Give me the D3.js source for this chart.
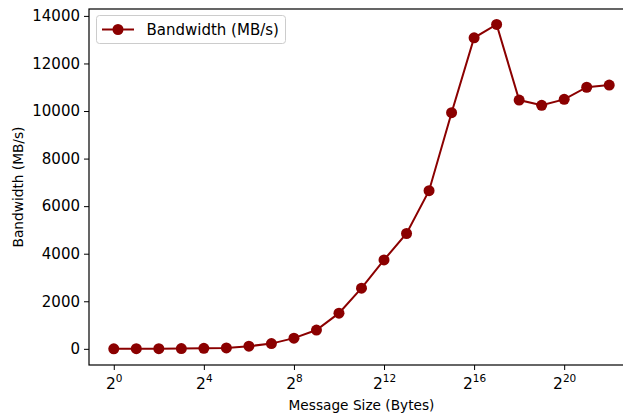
<!DOCTYPE html>
<html>
<head>
<meta charset="utf-8">
<script src="https://cdn.jsdelivr.net/npm/d3@7"></script>
<style>
  body { margin: 0; background: #fff; }
  svg { display: block; font-family: "DejaVu Sans", sans-serif; }
</style>
</head>
<body>
<svg id="chart"></svg>
<script>
// chart data
let exponents = [0, 1, 2, 3, 4, 5, 6, 7, 8, 9, 10, 11, 12, 13, 14, 15, 16, 17, 18, 19, 20, 21, 22]
let bandwidth = [2, 4, 6, 10, 20, 40, 110, 220, 450, 790, 1500, 2550, 3740, 4850, 6650, 9930,
                 13080, 13640, 10460, 10240, 10490, 11000, 11090]
let xTicks = [0, 4, 8, 12, 16, 20]
let yTicks = [0, 2000, 4000, 6000, 8000, 10000, 12000, 14000]
let seriesName = 'Bandwidth (MB/s)'
let xTitle = 'Message Size (Bytes)'
let yTitle = 'Bandwidth (MB/s)'

let width = 623
let height = 415
let padLeft = 89, padRight = 634, padTop = 9, padBottom = 365
let color = '#8b0000'

let svg = d3.select('#chart')
            .attr('width', width)
            .attr('height', height)

let xScale = d3.scaleLinear().domain([-1.1, 23.1]).range([padLeft, padRight])
let yScale = d3.scaleLinear().domain([-680, 14290]).range([padBottom, padTop])

// y axis
let yAxis = d3.axisLeft(yScale).tickValues(yTicks).tickSize(5).tickPadding(4)
                .tickFormat(d3.format('d'))
let gy = svg.append('g')
    .attr('transform', 'translate(' + padLeft + ',0)')
    .call(yAxis)
gy.select('.domain').remove()
gy.selectAll('line').attr('stroke', '#000')
gy.selectAll('text').attr('font-size', '15px').attr('fill', '#000')
    .attr('font-family', '"DejaVu Sans", sans-serif')

// x axis with 2^n labels
let xAxis = d3.axisBottom(xScale).tickValues(xTicks).tickSize(5).tickFormat('')
let gx = svg.append('g')
    .attr('transform', 'translate(0,' + padBottom + ')')
    .call(xAxis)
gx.select('.domain').remove()
gx.selectAll('line').attr('stroke', '#000')
gx.selectAll('.tick').each(function (d) {
    let t = d3.select(this).select('text')
        .attr('y', 23.5)
        .attr('dy', null)
        .attr('text-anchor', 'middle')
        .attr('fill', '#000')
        .attr('font-family', '"DejaVu Sans", sans-serif')
    t.append('tspan').attr('font-size', '15.5px').text('2')
    t.append('tspan').attr('font-size', '10.5px').attr('dy', '-6.5').text(d)
})

// frame
svg.append('rect')
    .attr('x', padLeft).attr('y', padTop)
    .attr('width', padRight - padLeft).attr('height', padBottom - padTop)
    .attr('fill', 'none').attr('stroke', '#000').attr('stroke-width', 1.2)

// axis titles
svg.append('text')
    .attr('x', (padLeft + padRight) / 2).attr('y', 410)
    .attr('text-anchor', 'middle').attr('font-size', '13.7px')
    .text(xTitle)
svg.append('text')
    .attr('transform', 'translate(23,' + (padTop + padBottom) / 2 + ') rotate(-90)')
    .attr('text-anchor', 'middle').attr('font-size', '13.7px')
    .text(yTitle)

// series
let points = exponents.map((e, i) => ({ e: e, v: bandwidth[i] }))
let line = d3.line().x(d => xScale(d.e)).y(d => yScale(d.v))
svg.append('path')
    .datum(points)
    .attr('d', line)
    .attr('fill', 'none')
    .attr('stroke', color)
    .attr('stroke-width', 2)
svg.selectAll('circle.pt')
    .data(points)
    .enter()
    .append('circle')
    .attr('class', 'pt')
    .attr('cx', d => xScale(d.e))
    .attr('cy', d => yScale(d.v))
    .attr('r', 5.5)
    .attr('fill', color)

// legend
let legend = svg.append('g')
legend.append('rect')
    .attr('x', 96.5).attr('y', 15.5).attr('width', 189).attr('height', 28)
    .attr('rx', 3)
    .attr('fill', '#fff').attr('fill-opacity', 0.8)
    .attr('stroke', '#ccc')
legend.append('line')
    .attr('x1', 102).attr('x2', 134).attr('y1', 29.5).attr('y2', 29.5)
    .attr('stroke', color).attr('stroke-width', 2)
legend.append('circle')
    .attr('cx', 118).attr('cy', 29.5).attr('r', 5.5).attr('fill', color)
legend.append('text')
    .attr('x', 146.5).attr('y', 35).attr('font-size', '15px')
    .text(seriesName)
</script>
</body>
</html>
